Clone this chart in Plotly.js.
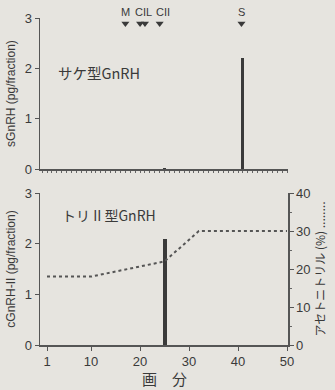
<!DOCTYPE html>
<html><head><meta charset="utf-8">
<script src="https://cdn.plot.ly/plotly-3.0.1.min.js"></script>
<style>html,body{margin:0;padding:0;background:#e6e4df;}#c{width:335px;height:390px;}</style>
</head><body><div id="c"></div>
<script>
// top panel: salmon GnRH
const sFractions = [25, 41];
const sValues = [0.03, 2.2];
// bottom panel: chicken GnRH-II
const cFractions = [25];
const cValues = [2.1];
// acetonitrile gradient (%)
const acnFractions = [1, 10, 25, 32, 50];
const acnValues = [18, 18, 22, 30, 30];
// elution markers
const markerFractions = [17, 20, 21, 24, 40.7];
const markerY = [2.89, 2.89, 2.89, 2.89, 2.89];
const markerLabels = ['M', 'CIL', 'CII', 'S'];
const labelFractions = [17, 20.6, 24.6, 40.7];
const xTicks = [1, 10, 20, 30, 40, 50];

const ink = '#3a3a3a';
const font = {family: 'Liberation Sans, Arial, sans-serif', size: 13, color: ink};
const jp = 'Noto Sans CJK JP, sans-serif';

const traces = [
  {type: 'bar', x: sFractions, y: sValues, xaxis: 'x', yaxis: 'y', width: 0.6,
   marker: {color: ink}, showlegend: false, hoverinfo: 'skip'},
  {type: 'bar', x: cFractions, y: cValues, xaxis: 'x2', yaxis: 'y2', width: 0.8,
   marker: {color: ink}, showlegend: false, hoverinfo: 'skip'},
  {type: 'scatter', mode: 'lines', x: acnFractions, y: acnValues, xaxis: 'x2', yaxis: 'y3',
   line: {color: '#555', width: 2, dash: 'dot'}, showlegend: false, hoverinfo: 'skip'},
  {type: 'scatter', mode: 'markers', x: markerFractions, y: markerY, xaxis: 'x', yaxis: 'y',
   marker: {symbol: 'triangle-down', size: 7, color: ink}, cliponaxis: false, showlegend: false, hoverinfo: 'skip'}
];

const xRange = [-0.43, 50.2];
const baseX = {range: xRange, showline: true, linecolor: '#555', linewidth: 1.5, zeroline: false,
  showgrid: false, ticks: 'outside', tickcolor: '#555'};
const fracTicks = {range: xRange, showline: false, zeroline: false, showgrid: false,
  tickmode: 'linear', tick0: 0, dtick: 1, ticks: 'outside', ticklen: 2, tickwidth: 1,
  tickcolor: '#666', showticklabels: false};
const baseY = {range: [0, 3], showline: true, linecolor: '#555', linewidth: 1.5, zeroline: false,
  showgrid: false, ticks: 'outside', ticklen: 4, tickcolor: '#555', tickvals: [0, 1, 2, 3],
  tickfont: font};

const annotations = [
  {text: 'サケ型GnRH', xref: 'paper', yref: 'paper', x: 0.065, y: 0.832, xanchor: 'left', yanchor: 'middle',
   showarrow: false, font: {family: jp, size: 14.5, color: ink}},
  {text: 'トリ II 型GnRH', xref: 'paper', yref: 'paper', x: 0.08, y: 0.398, xanchor: 'left', yanchor: 'middle',
   showarrow: false, font: {family: jp, size: 14, color: ink}},
  {text: '画　分', xref: 'paper', yref: 'paper', x: 0.5, y: -0.102, xanchor: 'center', yanchor: 'middle',
   showarrow: false, font: {family: jp, size: 15, color: ink}}
];
markerLabels.forEach((t, i) => annotations.push({
  text: t, xref: 'x', yref: 'paper', x: labelFractions[i], y: 1.018, xanchor: 'center', yanchor: 'middle',
  showarrow: false, font: {family: font.family, size: 11, color: ink}
}));

const layout = {
  width: 335, height: 390,
  paper_bgcolor: '#e6e4df', plot_bgcolor: 'rgba(0,0,0,0)',
  margin: {l: 40, r: 47, t: 18, b: 45},
  font: font,
  bargap: 0,
  xaxis: Object.assign({}, fracTicks, {domain: [0, 1], anchor: 'y', showline: true, linecolor: '#555', linewidth: 1.5}),
  yaxis: Object.assign({}, baseY, {domain: [0.538, 1], anchor: 'x',
    title: {text: 'sGnRH (pg/fraction)', font: {family: font.family, size: 12, color: ink}, standoff: 6}}),
  xaxis2: Object.assign({}, baseX, {domain: [0, 1], anchor: 'y2', tickvals: xTicks, ticklen: 4,
    tickfont: font}),
  xaxis3: Object.assign({}, fracTicks, {overlaying: 'x2', anchor: 'y2'}),
  yaxis2: Object.assign({}, baseY, {domain: [0, 0.4648], anchor: 'x2',
    title: {text: 'cGnRH-II (pg/fraction)', font: {family: font.family, size: 12, color: ink}, standoff: 6}}),
  yaxis3: {overlaying: 'y2', side: 'right', anchor: 'x2', range: [0, 40], tickvals: [0, 10, 20, 30, 40],
    showline: true, linecolor: '#555', linewidth: 1.5, zeroline: false, showgrid: false,
    ticks: 'outside', ticklen: 4, tickcolor: '#555', tickfont: font,
    minor: {ticks: 'outside', dtick: 5, ticklen: 2, tickcolor: '#666'},
    title: {text: 'アセトニトリル (%) ........', font: {family: jp, size: 12, color: ink}, standoff: 6}},
  annotations: annotations
};

Plotly.newPlot('c', traces, layout, {displayModeBar: false, staticPlot: true});
</script></body></html>
